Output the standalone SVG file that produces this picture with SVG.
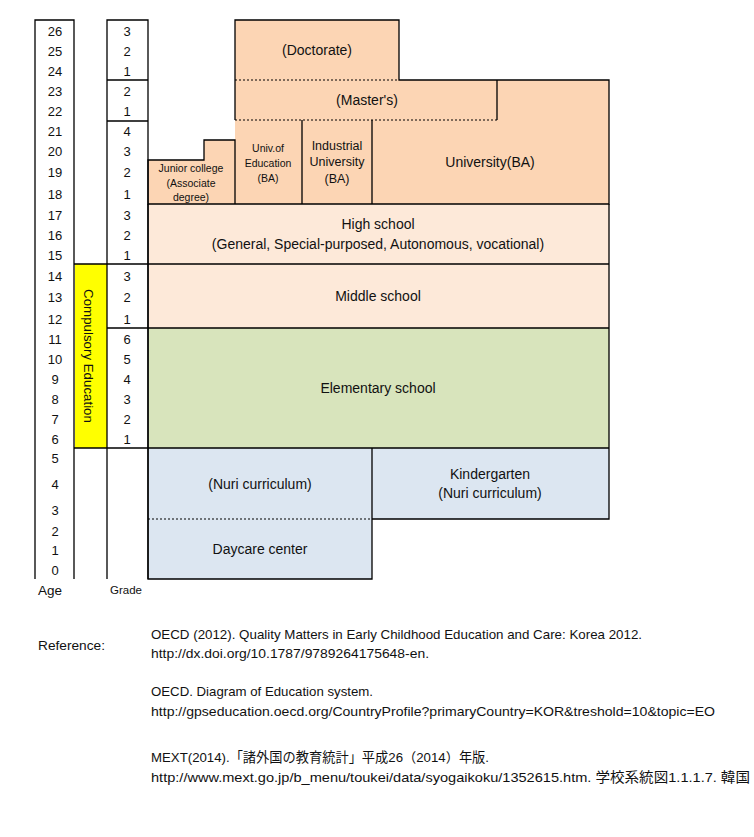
<svg xmlns="http://www.w3.org/2000/svg" width="754" height="837" viewBox="0 0 754 837">
<style>
text{font-family:"Liberation Sans",Arial,sans-serif;fill:#111;}
.m{font-size:14px;text-anchor:middle;}
.n{font-size:13px;text-anchor:middle;}
.s{font-size:10.5px;text-anchor:middle;}
.i{font-size:12.5px;text-anchor:middle;}
.r{font-size:13.5px;}
.j{font-family:"Liberation Sans","Noto Sans CJK JP",sans-serif;}
.ln{fill:none;stroke:#000;stroke-width:1.3;}
.dt{fill:none;stroke:#000;stroke-width:1;stroke-dasharray:2 2;}
.or{fill:#FCD5B4;}
.pe{fill:#FDE9D9;}
.gr{fill:#D8E4BC;}
.bl{fill:#DCE6F1;}
</style>
<rect width="754" height="837" fill="#fff"/>

<g id="compulsory">
<rect x="75" y="264" width="32" height="184" fill="#FFFF00"/>
<text class="n" transform="translate(84,356) rotate(90)" style="font-size:13.3px">Compulsory Education</text>
</g>

<g id="doctorate">
<rect class="or" x="235" y="20" width="164" height="60"/>
<text class="m" x="317" y="55">(Doctorate)</text>
</g>
<g id="masters">
<rect class="or" x="235" y="80" width="262" height="40"/>
<text class="m" x="367" y="105">(Master's)</text>
</g>
<g id="university">
<path class="or" d="M372,120H497V80H609V204H372Z"/>
<text class="m" x="490" y="167">University(BA)</text>
</g>
<g id="univ-education">
<rect class="or" x="235" y="120" width="67" height="84"/>
<text class="s" x="268" y="152">Univ.of</text>
<text class="s" x="268" y="167">Education</text>
<text class="s" x="268" y="182">(BA)</text>
</g>
<g id="industrial">
<rect class="or" x="302" y="120" width="70" height="84"/>
<text class="i" x="337" y="150">Industrial</text>
<text class="i" x="337" y="166">University</text>
<text class="i" x="337" y="183">(BA)</text>
</g>
<g id="junior-college">
<path class="or" d="M148,160H204V140H235V204H148Z"/>
<text class="s" x="191" y="172">Junior college</text>
<text class="s" x="191" y="187">(Associate</text>
<text class="s" x="191" y="201">degree)</text>
</g>
<g id="high-school">
<rect class="pe" x="148" y="204" width="461" height="60"/>
<text class="m" x="378" y="229">High school</text>
<text class="m" x="378" y="249">(General, Special-purposed, Autonomous, vocational)</text>
</g>
<g id="middle-school">
<rect class="pe" x="148" y="264" width="461" height="64"/>
<text class="m" x="378" y="301">Middle school</text>
</g>
<g id="elementary-school">
<rect class="gr" x="148" y="328" width="461" height="120"/>
<text class="m" x="378" y="393">Elementary school</text>
</g>
<g id="nuri">
<rect class="bl" x="148" y="448" width="224" height="71"/>
<text class="m" x="260" y="489">(Nuri curriculum)</text>
</g>
<g id="daycare">
<rect class="bl" x="148" y="519" width="224" height="60"/>
<text class="m" x="260" y="554">Daycare center</text>
</g>
<g id="kindergarten">
<rect class="bl" x="372" y="448" width="237" height="71"/>
<text class="m" x="490" y="479">Kindergarten</text>
<text class="m" x="490" y="498">(Nuri curriculum)</text>
</g>

<g id="connectors">
<path class="ln" d="M35,579V20H74V579 M107,579V20H148V579"/>
<path class="ln" d="M107,80H148 M107,121H148 M74,264H148 M107,328H148 M74,448H148"/>
<path class="ln" d="M235,80V20H399V80H609V204H148V160H204V140H235V204 M497,80V120 M302,120V204 M372,120V204 M235,80V120"/>
<path class="ln" d="M148,204V579H372V448 M148,264H609 M148,328H609 M148,448H609V519H372 M609,204V448"/>
<path class="dt" d="M235,80H399 M235,120H497 M148,519H372"/>
</g>

<g id="ages">
<text class="n" x="55" y="36">26</text>
<text class="n" x="55" y="56">25</text>
<text class="n" x="55" y="76">24</text>
<text class="n" x="55" y="96">23</text>
<text class="n" x="55" y="116">22</text>
<text class="n" x="55" y="136">21</text>
<text class="n" x="55" y="156">20</text>
<text class="n" x="55" y="177">19</text>
<text class="n" x="55" y="199">18</text>
<text class="n" x="55" y="220">17</text>
<text class="n" x="55" y="240">16</text>
<text class="n" x="55" y="260">15</text>
<text class="n" x="55" y="281">14</text>
<text class="n" x="55" y="302">13</text>
<text class="n" x="55" y="324">12</text>
<text class="n" x="55" y="344">11</text>
<text class="n" x="55" y="364">10</text>
<text class="n" x="55" y="384">9</text>
<text class="n" x="55" y="404">8</text>
<text class="n" x="55" y="424">7</text>
<text class="n" x="55" y="444">6</text>
<text class="n" x="55" y="463">5</text>
<text class="n" x="55" y="489">4</text>
<text class="n" x="55" y="515">3</text>
<text class="n" x="55" y="536">2</text>
<text class="n" x="55" y="555">1</text>
<text class="n" x="55" y="575">0</text>
<text x="38" y="595" style="font-size:13.5px">Age</text>
</g>

<g id="grades">
<text class="n" x="127" y="36">3</text>
<text class="n" x="127" y="56">2</text>
<text class="n" x="127" y="76">1</text>
<text class="n" x="127" y="96">2</text>
<text class="n" x="127" y="116">1</text>
<text class="n" x="127" y="136">4</text>
<text class="n" x="127" y="156">3</text>
<text class="n" x="127" y="177">2</text>
<text class="n" x="127" y="199">1</text>
<text class="n" x="127" y="220">3</text>
<text class="n" x="127" y="240">2</text>
<text class="n" x="127" y="260">1</text>
<text class="n" x="127" y="281">3</text>
<text class="n" x="127" y="302">2</text>
<text class="n" x="127" y="324">1</text>
<text class="n" x="127" y="344">6</text>
<text class="n" x="127" y="364">5</text>
<text class="n" x="127" y="384">4</text>
<text class="n" x="127" y="404">3</text>
<text class="n" x="127" y="424">2</text>
<text class="n" x="127" y="444">1</text>
<text x="110" y="594" style="font-size:11.5px">Grade</text>
</g>

<g id="references">
<text class="r" x="38" y="650" textLength="67" lengthAdjust="spacingAndGlyphs">Reference:</text>
<text class="r" x="151" y="639" textLength="491" lengthAdjust="spacingAndGlyphs">OECD (2012). Quality Matters in Early Childhood Education and Care: Korea 2012.</text>
<text class="r" x="151" y="658" textLength="278" lengthAdjust="spacingAndGlyphs">http://dx.doi.org/10.1787/9789264175648-en.</text>
<text class="r" x="151" y="696" textLength="222" lengthAdjust="spacingAndGlyphs">OECD. Diagram of Education system.</text>
<text class="r" x="151" y="716" textLength="564" lengthAdjust="spacingAndGlyphs">http://gpseducation.oecd.org/CountryProfile?primaryCountry=KOR&amp;treshold=10&amp;topic=EO</text>
<text class="r j" x="151" y="762" textLength="338" lengthAdjust="spacingAndGlyphs">MEXT(2014).「諸外国の教育統計」平成26（2014）年版.</text>
<text class="r j" x="151" y="782" textLength="599" lengthAdjust="spacingAndGlyphs">http://www.mext.go.jp/b_menu/toukei/data/syogaikoku/1352615.htm. 学校系統図1.1.1.7. 韓国</text>
</g>
</svg>
